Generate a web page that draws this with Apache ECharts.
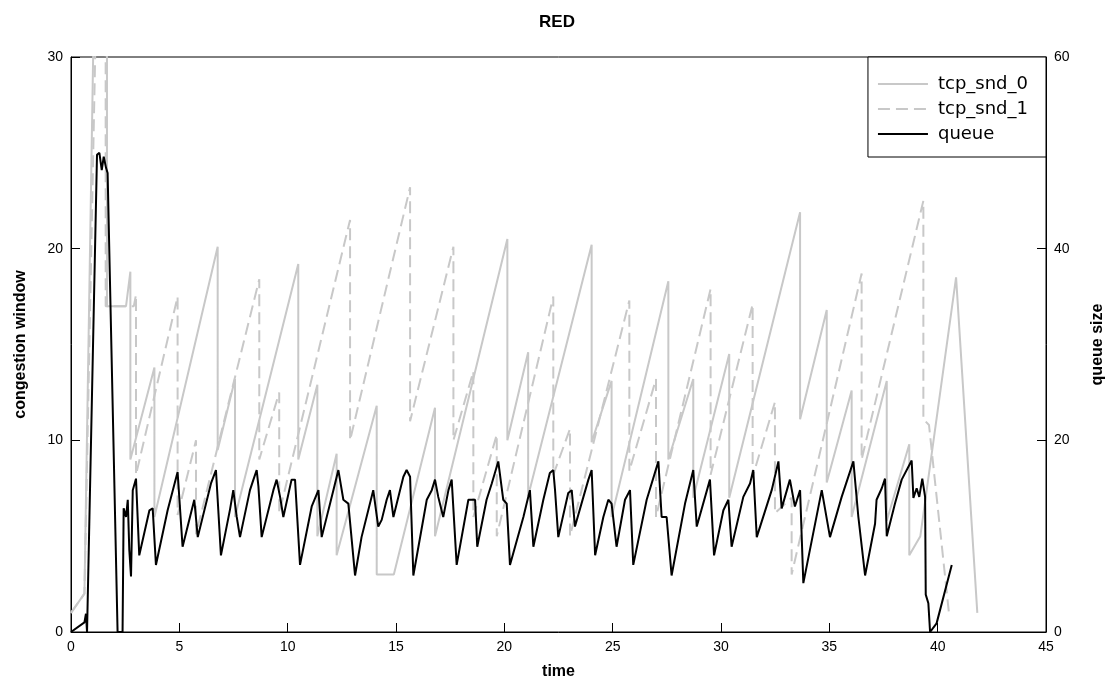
<!DOCTYPE html>
<html>
<head>
<meta charset="utf-8">
<script src="https://cdn.jsdelivr.net/npm/echarts@6/dist/echarts.min.js"></script>
<style>
html,body{margin:0;padding:0;background:#fff;}
#chart{width:1114px;height:690px;}
</style>
</head>
<body>
<div id="chart"></div>
<script>
// congestion window of sender 0: [time, window]
const tcpSnd0 = [
  [0,1.0],[0.62,2.0],[1.05,32],[1.66,34],[1.66,17.0],[2.54,17.0],[2.74,18.8],[2.74,9.0],
  [3.85,13.8],[3.85,6.0],[6.77,20.1],[6.77,9.5],[7.57,13.2],[7.57,6.0],[10.49,19.2],[10.49,9.0],
  [11.37,12.9],[11.37,5.0],[12.26,9.3],[12.26,4.0],[14.11,11.8],[14.11,3.0],[14.9,3.0],
  [16.8,11.7],[16.8,5.0],[20.14,20.5],[20.14,10.0],[21.1,14.6],[21.1,7.1],[24.03,20.2],[24.03,9.9],
  [24.95,13.1],[24.95,6.0],[27.57,18.3],[27.57,9.0],[28.72,13.2],[28.72,7.0],[30.38,14.5],[30.38,7.0],
  [33.65,21.9],[33.65,11.1],[34.88,16.8],[34.88,7.8],[36.03,12.6],[36.03,6.0],[37.65,13.1],[37.65,5.8],
  [38.69,9.8],[38.69,4.0],[39.2,5.0],[40.85,18.5],[41.83,1.0]
];
// congestion window of sender 1: [time, window]
const tcpSnd1 = [
  [0,1.0],[0.62,2.0],[1.15,32],[1.6,34],[1.6,17.0],[2.9,17.0],[3.0,17.6],[3.0,8.2],
  [4.92,17.5],[4.92,6.1],[5.77,10.0],[5.77,5.1],[8.69,18.4],[8.69,9.0],[9.61,12.5],[9.61,6.2],
  [12.88,21.5],[12.88,10.0],[15.65,23.2],[15.65,11.0],[17.65,20.1],[17.65,10.0],[18.57,13.6],[18.57,6.0],
  [19.65,10.3],[19.65,5.0],[22.26,17.5],[22.26,8.2],[23.03,10.6],[23.03,5.0],[25.77,17.3],[25.77,8.4],
  [27.0,13.2],[27.0,6.0],[29.52,17.9],[29.52,8.2],[31.46,17.1],[31.46,8.1],[32.49,12.0],[32.49,6.2],
  [33.26,7.0],[33.26,3.0],[36.49,18.7],[36.49,9.0],[39.34,22.5],[39.34,11.1],[39.6,10.8],[40.52,1.0]
];
// queue size: [time, packets]
const queueSize = [
  [0,0],[0.62,1.0],[0.69,1.9],[0.74,0],[0.8,0],[1.2,49.8],[1.31,50],[1.42,48.2],[1.51,49.6],[1.62,48.4],
  [1.69,47.9],[2.15,0],[2.38,0],[2.43,12.9],[2.54,12.0],[2.62,13.8],[2.69,8.6],[2.77,5.8],[2.85,14.8],
  [3.0,16.0],[3.15,8.0],[3.62,12.7],[3.77,12.9],[3.92,7.0],[4.46,12.7],[4.92,16.7],[5.15,8.9],
  [5.69,13.8],[5.85,9.9],[6.46,15.5],[6.69,16.9],[6.92,8.0],[7.34,12.8],[7.49,14.8],[7.65,12.0],
  [7.8,9.9],[8.26,14.8],[8.42,15.9],[8.57,16.9],[8.65,15.2],[8.8,9.9],[9.34,14.8],[9.49,15.9],
  [9.65,14.1],[9.8,12.0],[10.18,15.9],[10.34,15.9],[10.57,7.0],[11.11,13.1],[11.42,14.8],[11.57,9.9],
  [12.11,14.8],[12.34,16.9],[12.57,13.8],[12.8,13.4],[13.11,5.9],[13.41,9.9],[13.95,14.8],[14.18,11.0],
  [14.34,11.7],[14.57,13.8],[14.72,14.8],[14.88,12.0],[15.34,16.2],[15.49,16.9],[15.65,16.2],[15.8,5.9],
  [16.42,13.8],[16.65,14.8],[16.8,15.9],[16.95,14.1],[17.18,12.0],[17.42,14.8],[17.57,15.9],[17.8,7.0],
  [18.34,13.8],[18.65,13.8],[18.75,8.9],[19.18,13.8],[19.42,15.5],[19.72,17.8],[19.95,13.8],[20.11,13.4],
  [20.26,7.0],[20.88,12.0],[21.03,13.4],[21.18,14.8],[21.34,8.9],[21.8,13.8],[22.1,16.6],[22.26,16.9],
  [22.34,14.8],[22.49,9.9],[22.95,14.5],[23.11,14.8],[23.26,11.0],[23.65,14.1],[23.88,15.9],[24.03,16.9],
  [24.19,8.0],[24.57,12.0],[24.8,13.8],[24.95,13.4],[25.18,8.9],[25.57,13.8],[25.8,14.8],[25.95,7.0],
  [26.57,13.8],[27.11,17.8],[27.26,12.0],[27.49,12.0],[27.72,5.9],[28.34,13.4],[28.72,16.9],[28.88,11.0],
  [29.49,15.9],[29.68,8.0],[30.11,12.7],[30.34,13.8],[30.49,8.9],[31.03,14.1],[31.34,15.5],[31.49,16.9],
  [31.65,9.9],[32.34,14.8],[32.65,17.8],[32.8,12.9],[33.18,15.9],[33.41,13.1],[33.65,14.8],[33.8,5.1],
  [34.65,14.8],[35.03,9.9],[35.57,14.1],[36.11,17.8],[36.34,12.0],[36.65,5.9],[37.11,11.3],[37.18,13.8],
  [37.42,15.0],[37.57,16.0],[37.65,10.0],[38.03,13.4],[38.34,15.9],[38.8,17.9],[38.88,14.0],[39.03,15.0],
  [39.15,14.1],[39.29,16.0],[39.42,14.1],[39.45,3.9],[39.57,3.0],[39.65,0],[39.95,0.9],[40.65,7.0]
];
const seriesNames = ['tcp_snd_0', 'tcp_snd_1', 'queue'];

const chart = echarts.init(document.getElementById('chart'), null, {renderer: 'canvas'});
const axisFont = {fontFamily: 'Liberation Sans', fontSize: 14, color: '#000'};
const nameFont = {fontFamily: 'Liberation Sans', fontSize: 16, fontWeight: 'bold', color: '#000'};
const tickCommon = {
  axisLine: {show: true, lineStyle: {color: '#000', width: 1}},
  axisTick: {show: true, inside: true, length: 9, lineStyle: {color: '#000'}},
  splitLine: {show: false},
  axisLabel: Object.assign({margin: 8}, axisFont)
};
chart.setOption({
  animation: false,
  backgroundColor: '#fff',
  title: {
    text: 'RED', left: 'center', top: 9,
    textStyle: {fontFamily: 'Liberation Sans', fontSize: 17, fontWeight: 'bold', color: '#000'}
  },
  grid: {left: 71, right: 68, top: 57, bottom: 58, show: true, borderColor: '#000', borderWidth: 1, backgroundColor: 'transparent'},
  legend: {
    data: seriesNames,
    orient: 'vertical', right: 68, top: 57,
    align: 'left',
    itemWidth: 50, itemHeight: 14, itemGap: 7,
    padding: [18, 18, 14, 9],
    borderColor: '#000', borderWidth: 1, borderRadius: 0,
    backgroundColor: '#fff',
    itemStyle: {color: 'transparent', borderColor: 'transparent', borderWidth: 0, opacity: 0},
    textStyle: {fontFamily: 'DejaVu Sans', fontSize: 18, color: '#000', padding: [0, 0, 0, 5]}
  },
  xAxis: Object.assign({
    type: 'value', min: 0, max: 45, interval: 5,
    name: 'time', nameLocation: 'middle', nameGap: 32, nameTextStyle: nameFont
  }, tickCommon),
  yAxis: [
    Object.assign({
      type: 'value', min: 0, max: 30, interval: 10, position: 'left',
      name: 'congestion window', nameLocation: 'middle', nameGap: 42, nameRotate: 90, nameTextStyle: nameFont
    }, tickCommon),
    Object.assign({
      type: 'value', min: 0, max: 60, interval: 20, position: 'right',
      name: 'queue size', nameLocation: 'middle', nameGap: 44, nameRotate: 90, nameTextStyle: nameFont
    }, tickCommon)
  ],
  series: [
    {name: seriesNames[0], type: 'line', yAxisIndex: 0, data: tcpSnd0, showSymbol: false, symbol: 'none',
      lineStyle: {color: '#c8c8c8', width: 2}, itemStyle: {color: '#c8c8c8'}, z: 2},
    {name: seriesNames[1], type: 'line', yAxisIndex: 0, data: tcpSnd1, showSymbol: false, symbol: 'none',
      lineStyle: {color: '#c8c8c8', width: 2, type: [12, 6]}, itemStyle: {color: '#c8c8c8'}, z: 2},
    {name: seriesNames[2], type: 'line', yAxisIndex: 1, data: queueSize, showSymbol: false, symbol: 'none',
      lineStyle: {color: '#000', width: 2}, itemStyle: {color: '#000'}, z: 3}
  ]
});
</script>
</body>
</html>
